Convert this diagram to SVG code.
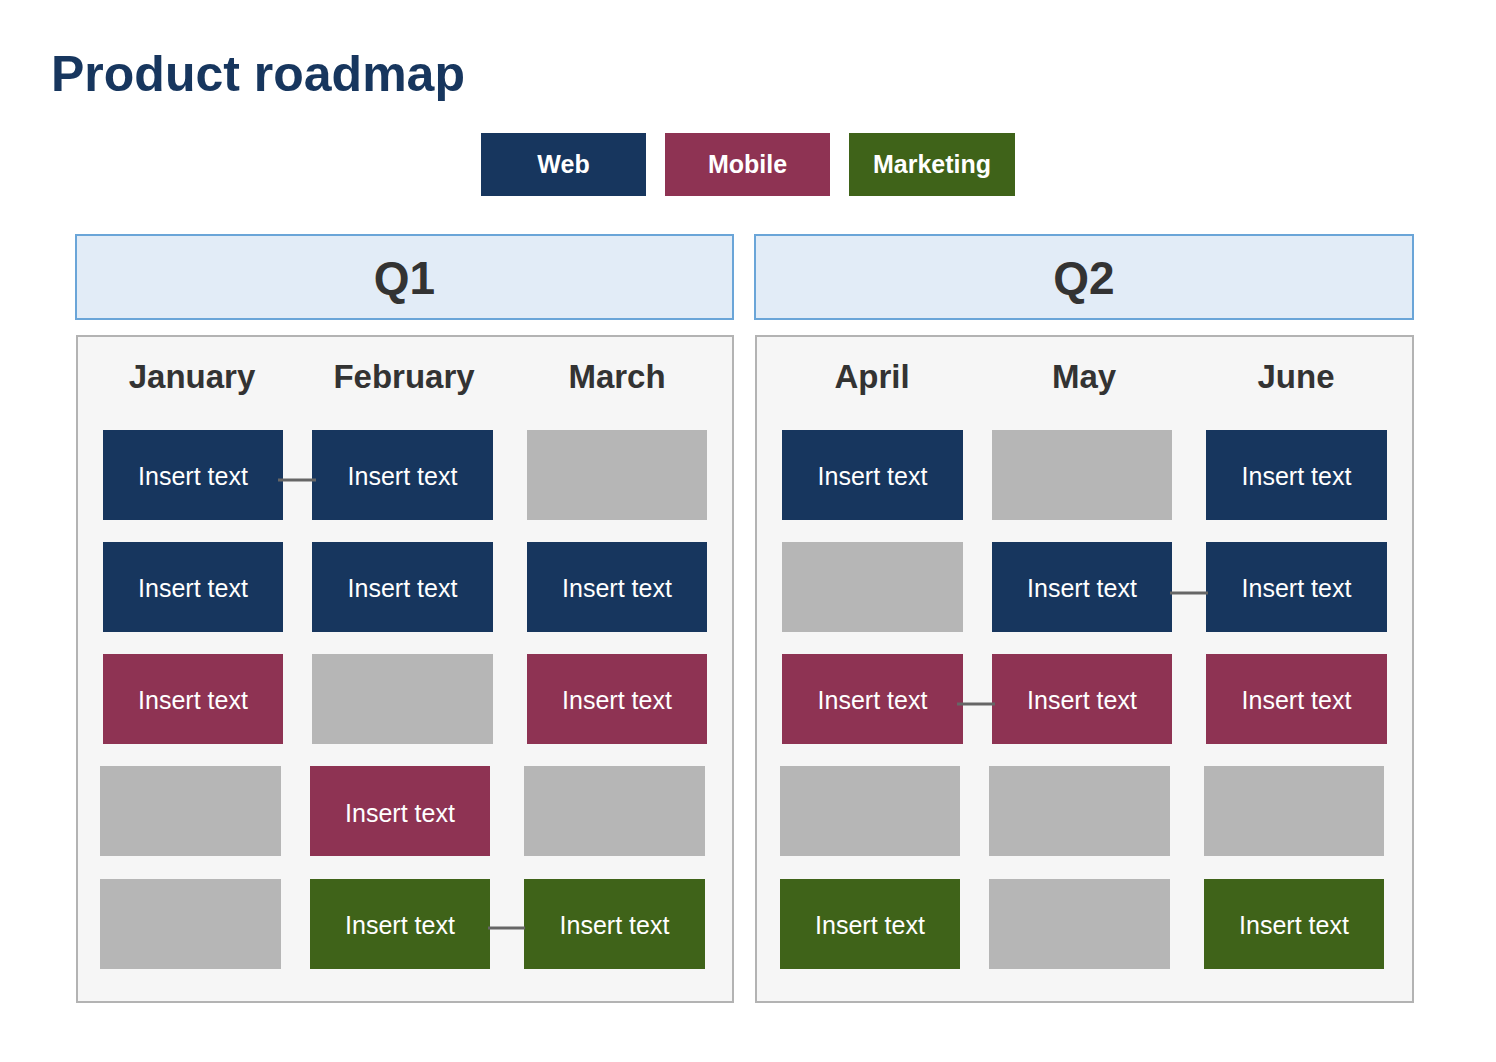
<svg xmlns="http://www.w3.org/2000/svg" width="1496" height="1062" viewBox="0 0 1496 1062">
<style>
text{font-family:"Liberation Sans",Arial,sans-serif;}
.title{font-size:50px;font-weight:bold;fill:#17365e;}
.leg{font-size:25px;font-weight:bold;fill:#fff;text-anchor:middle;}
.qh{fill:#e2ecf7;stroke:#6aa5d8;stroke-width:2;}
.qt{font-size:46px;font-weight:bold;fill:#333;text-anchor:middle;}
.panel{fill:#f6f6f6;stroke:#b3b3b3;stroke-width:2;}
.mon{font-size:33px;font-weight:bold;fill:#333;text-anchor:middle;}
.web{fill:#17365e;}
.mob{fill:#8e3353;}
.mkt{fill:#3f6319;}
.empty{fill:#b6b6b6;}
.ct{font-size:25px;fill:#fff;text-anchor:middle;}
.conn{stroke:#666;stroke-width:3;fill:none;}
</style>
<rect width="1496" height="1062" fill="#fff"/>
<text class="title" x="51" y="91">Product roadmap</text>
<g id="legend">
<g id="leg-web"><rect class="web" x="481" y="133" width="165" height="63"/><text class="leg" x="563.5" y="173">Web</text></g>
<g id="leg-mobile"><rect class="mob" x="665" y="133" width="165" height="63"/><text class="leg" x="747.5" y="173">Mobile</text></g>
<g id="leg-marketing"><rect class="mkt" x="849" y="133" width="166" height="63"/><text class="leg" x="932" y="173">Marketing</text></g>
</g>
<g id="q1-header"><rect class="qh" x="76" y="235" width="657" height="84"/><text class="qt" x="404.5" y="294">Q1</text></g>
<g id="q2-header"><rect class="qh" x="755" y="235" width="658" height="84"/><text class="qt" x="1084" y="294">Q2</text></g>
<g id="q1-panel"><rect class="panel" x="77" y="336" width="656" height="666"/>
<text class="mon" x="192" y="388">January</text><text class="mon" x="404" y="388">February</text><text class="mon" x="617" y="388">March</text></g>
<g id="q2-panel"><rect class="panel" x="756" y="336" width="657" height="666"/>
<text class="mon" x="872" y="388">April</text><text class="mon" x="1084" y="388">May</text><text class="mon" x="1296" y="388">June</text></g>
<!-- Q1 cells -->
<g id="c-q1-r1-c1"><rect class="web" x="103" y="430" width="180" height="90"/><text class="ct" x="193" y="485">Insert text</text></g>
<g id="c-q1-r1-c2"><rect class="web" x="312" y="430" width="181" height="90"/><text class="ct" x="402.5" y="485">Insert text</text></g>
<g id="c-q1-r1-c3"><rect class="empty" x="527" y="430" width="180" height="90"/></g>
<g id="c-q1-r2-c1"><rect class="web" x="103" y="542" width="180" height="90"/><text class="ct" x="193" y="597">Insert text</text></g>
<g id="c-q1-r2-c2"><rect class="web" x="312" y="542" width="181" height="90"/><text class="ct" x="402.5" y="597">Insert text</text></g>
<g id="c-q1-r2-c3"><rect class="web" x="527" y="542" width="180" height="90"/><text class="ct" x="617" y="597">Insert text</text></g>
<g id="c-q1-r3-c1"><rect class="mob" x="103" y="654" width="180" height="90"/><text class="ct" x="193" y="709">Insert text</text></g>
<g id="c-q1-r3-c2"><rect class="empty" x="312" y="654" width="181" height="90"/></g>
<g id="c-q1-r3-c3"><rect class="mob" x="527" y="654" width="180" height="90"/><text class="ct" x="617" y="709">Insert text</text></g>
<g id="c-q1-r4-c1"><rect class="empty" x="100" y="766" width="181" height="90"/></g>
<g id="c-q1-r4-c2"><rect class="mob" x="310" y="766" width="180" height="90"/><text class="ct" x="400" y="822">Insert text</text></g>
<g id="c-q1-r4-c3"><rect class="empty" x="524" y="766" width="181" height="90"/></g>
<g id="c-q1-r5-c1"><rect class="empty" x="100" y="879" width="181" height="90"/></g>
<g id="c-q1-r5-c2"><rect class="mkt" x="310" y="879" width="180" height="90"/><text class="ct" x="400" y="934">Insert text</text></g>
<g id="c-q1-r5-c3"><rect class="mkt" x="524" y="879" width="181" height="90"/><text class="ct" x="614.5" y="934">Insert text</text></g>
<!-- Q2 cells -->
<g id="c-q2-r1-c1"><rect class="web" x="782" y="430" width="181" height="90"/><text class="ct" x="872.5" y="485">Insert text</text></g>
<g id="c-q2-r1-c2"><rect class="empty" x="992" y="430" width="180" height="90"/></g>
<g id="c-q2-r1-c3"><rect class="web" x="1206" y="430" width="181" height="90"/><text class="ct" x="1296.5" y="485">Insert text</text></g>
<g id="c-q2-r2-c1"><rect class="empty" x="782" y="542" width="181" height="90"/></g>
<g id="c-q2-r2-c2"><rect class="web" x="992" y="542" width="180" height="90"/><text class="ct" x="1082" y="597">Insert text</text></g>
<g id="c-q2-r2-c3"><rect class="web" x="1206" y="542" width="181" height="90"/><text class="ct" x="1296.5" y="597">Insert text</text></g>
<g id="c-q2-r3-c1"><rect class="mob" x="782" y="654" width="181" height="90"/><text class="ct" x="872.5" y="709">Insert text</text></g>
<g id="c-q2-r3-c2"><rect class="mob" x="992" y="654" width="180" height="90"/><text class="ct" x="1082" y="709">Insert text</text></g>
<g id="c-q2-r3-c3"><rect class="mob" x="1206" y="654" width="181" height="90"/><text class="ct" x="1296.5" y="709">Insert text</text></g>
<g id="c-q2-r4-c1"><rect class="empty" x="780" y="766" width="180" height="90"/></g>
<g id="c-q2-r4-c2"><rect class="empty" x="989" y="766" width="181" height="90"/></g>
<g id="c-q2-r4-c3"><rect class="empty" x="1204" y="766" width="180" height="90"/></g>
<g id="c-q2-r5-c1"><rect class="mkt" x="780" y="879" width="180" height="90"/><text class="ct" x="870" y="934">Insert text</text></g>
<g id="c-q2-r5-c2"><rect class="empty" x="989" y="879" width="181" height="90"/></g>
<g id="c-q2-r5-c3"><rect class="mkt" x="1204" y="879" width="180" height="90"/><text class="ct" x="1294" y="934">Insert text</text></g>
<g id="connectors">
<line class="conn" x1="278" y1="480" x2="316" y2="480"/>
<line class="conn" x1="488" y1="928" x2="525" y2="928"/>
<line class="conn" x1="1170" y1="593" x2="1208" y2="593"/>
<line class="conn" x1="957" y1="704" x2="995" y2="704"/>
</g>
</svg>
